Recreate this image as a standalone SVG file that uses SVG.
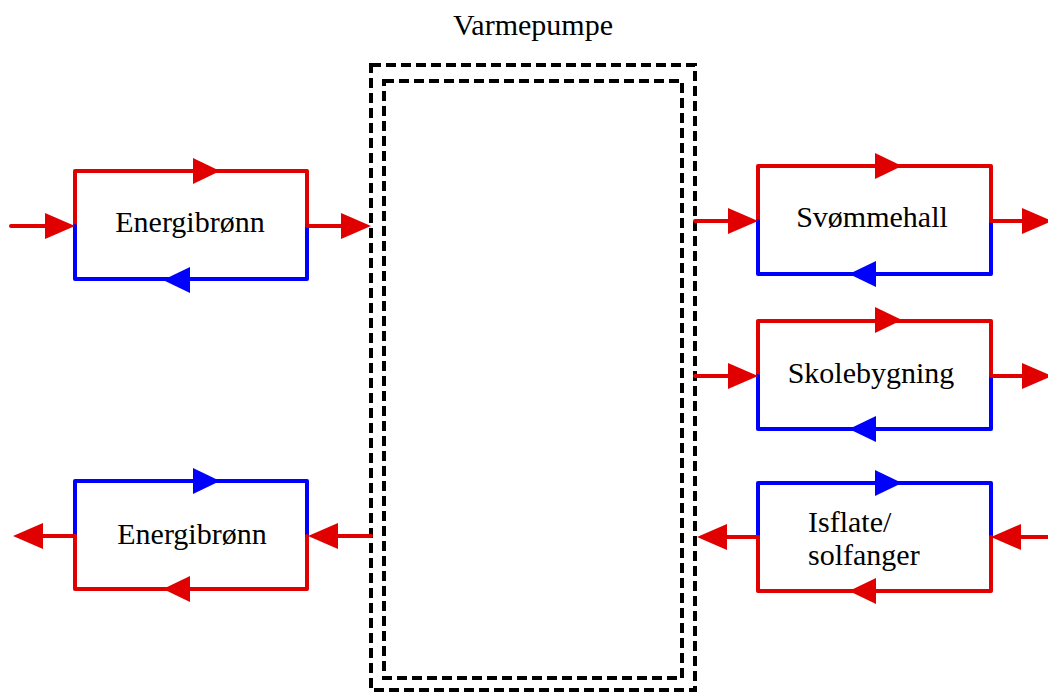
<svg xmlns="http://www.w3.org/2000/svg" xmlns:xlink="http://www.w3.org/1999/xlink" width="1048" height="695" viewBox="0 0 1048 695">
<style>
.r{stroke:#E00000;stroke-width:4;fill:none;stroke-linecap:round;stroke-linejoin:round}
.b{stroke:#0000FF;stroke-width:4;fill:none;stroke-linecap:round;stroke-linejoin:round}
.rf{fill:#E00000}
.bf{fill:#0000FF}
.d{stroke:#000;stroke-width:4;fill:none;stroke-dasharray:10,5}
text{font-family:'Liberation Serif','DejaVu Serif',serif;font-size:30px;fill:#000}
</style>
<defs>
<path id="ah" d="M0,0 L-30,-13 L-30,13 Z"/>
<path id="ahs" d="M0,0 L-27,-13 L-27,13 Z"/>
</defs>
<rect width="1048" height="695" fill="#fff"/>
<g id="varmepumpe">
<rect class="d" x="371" y="65" width="324" height="625"/>
<rect class="d" x="384" y="81" width="298" height="597"/>
<text x="533" y="35" text-anchor="middle" font-family="Liberation Serif, serif">Varmepumpe</text>
</g>
<g id="energibronn1">
<path class="r" d="M75,226 V171 H307 V226"/>
<path class="b" d="M307,226 V279 H75 V226"/>
<use xlink:href="#ahs" class="rf" transform="translate(220,171)"/>
<use xlink:href="#ahs" class="bf" transform="translate(163,280) rotate(180)"/>
<text x="190" y="232" text-anchor="middle" font-family="Liberation Serif, serif">Energibrønn</text>
</g>
<g id="energibronn2">
<path class="b" d="M75,536 V481 H307 V536"/>
<path class="r" d="M307,536 V589 H75 V536"/>
<use xlink:href="#ahs" class="bf" transform="translate(220,481)"/>
<use xlink:href="#ahs" class="rf" transform="translate(163,589) rotate(180)"/>
<text x="192" y="544" text-anchor="middle" font-family="Liberation Serif, serif">Energibrønn</text>
</g>
<g id="svommehall">
<path class="r" d="M758,221 V166 H991 V221"/>
<path class="b" d="M991,221 V274 H758 V221"/>
<use xlink:href="#ahs" class="rf" transform="translate(902,166)"/>
<use xlink:href="#ahs" class="bf" transform="translate(849,274) rotate(180)"/>
<text x="872" y="227" text-anchor="middle" font-family="Liberation Serif, serif">Svømmehall</text>
</g>
<g id="skolebygning">
<path class="r" d="M758,376 V321 H991 V376"/>
<path class="b" d="M991,376 V429 H758 V376"/>
<use xlink:href="#ahs" class="rf" transform="translate(902,320)"/>
<use xlink:href="#ahs" class="bf" transform="translate(849,429) rotate(180)"/>
<text x="871" y="383" text-anchor="middle" font-family="Liberation Serif, serif">Skolebygning</text>
</g>
<g id="isflate">
<path class="b" d="M758,537 V483 H991 V537"/>
<path class="r" d="M991,537 V591 H758 V537"/>
<use xlink:href="#ahs" class="bf" transform="translate(902,483)"/>
<use xlink:href="#ahs" class="rf" transform="translate(849,591) rotate(180)"/>
<text x="808" y="532" font-family="Liberation Serif, serif">Isflate/</text>
<text x="808" y="565" font-family="Liberation Serif, serif">solfanger</text>
</g>
<g id="connectors">
<line class="r" x1="11" y1="226" x2="60" y2="226"/>
<use xlink:href="#ah" class="rf" transform="translate(75,226)"/>
<line class="r" x1="307" y1="226" x2="350" y2="226"/>
<use xlink:href="#ah" class="rf" transform="translate(371,226)"/>
<line class="r" x1="371" y1="536" x2="325" y2="536"/>
<use xlink:href="#ah" class="rf" transform="translate(308,536) rotate(180)"/>
<line class="r" x1="75" y1="536" x2="30" y2="536"/>
<use xlink:href="#ah" class="rf" transform="translate(13,536) rotate(180)"/>
<line class="r" x1="695" y1="221" x2="740" y2="221"/>
<use xlink:href="#ah" class="rf" transform="translate(758,221)"/>
<line class="r" x1="991" y1="221" x2="1030" y2="221"/>
<use xlink:href="#ah" class="rf" transform="translate(1052,221)"/>
<line class="r" x1="695" y1="376" x2="740" y2="376"/>
<use xlink:href="#ah" class="rf" transform="translate(758,376)"/>
<line class="r" x1="991" y1="376" x2="1030" y2="376"/>
<use xlink:href="#ah" class="rf" transform="translate(1052,376)"/>
<line class="r" x1="1048" y1="537" x2="1005" y2="537"/>
<use xlink:href="#ah" class="rf" transform="translate(991,537) rotate(180)"/>
<line class="r" x1="758" y1="537" x2="715" y2="537"/>
<use xlink:href="#ah" class="rf" transform="translate(697,537) rotate(180)"/>
</g>
</svg>
